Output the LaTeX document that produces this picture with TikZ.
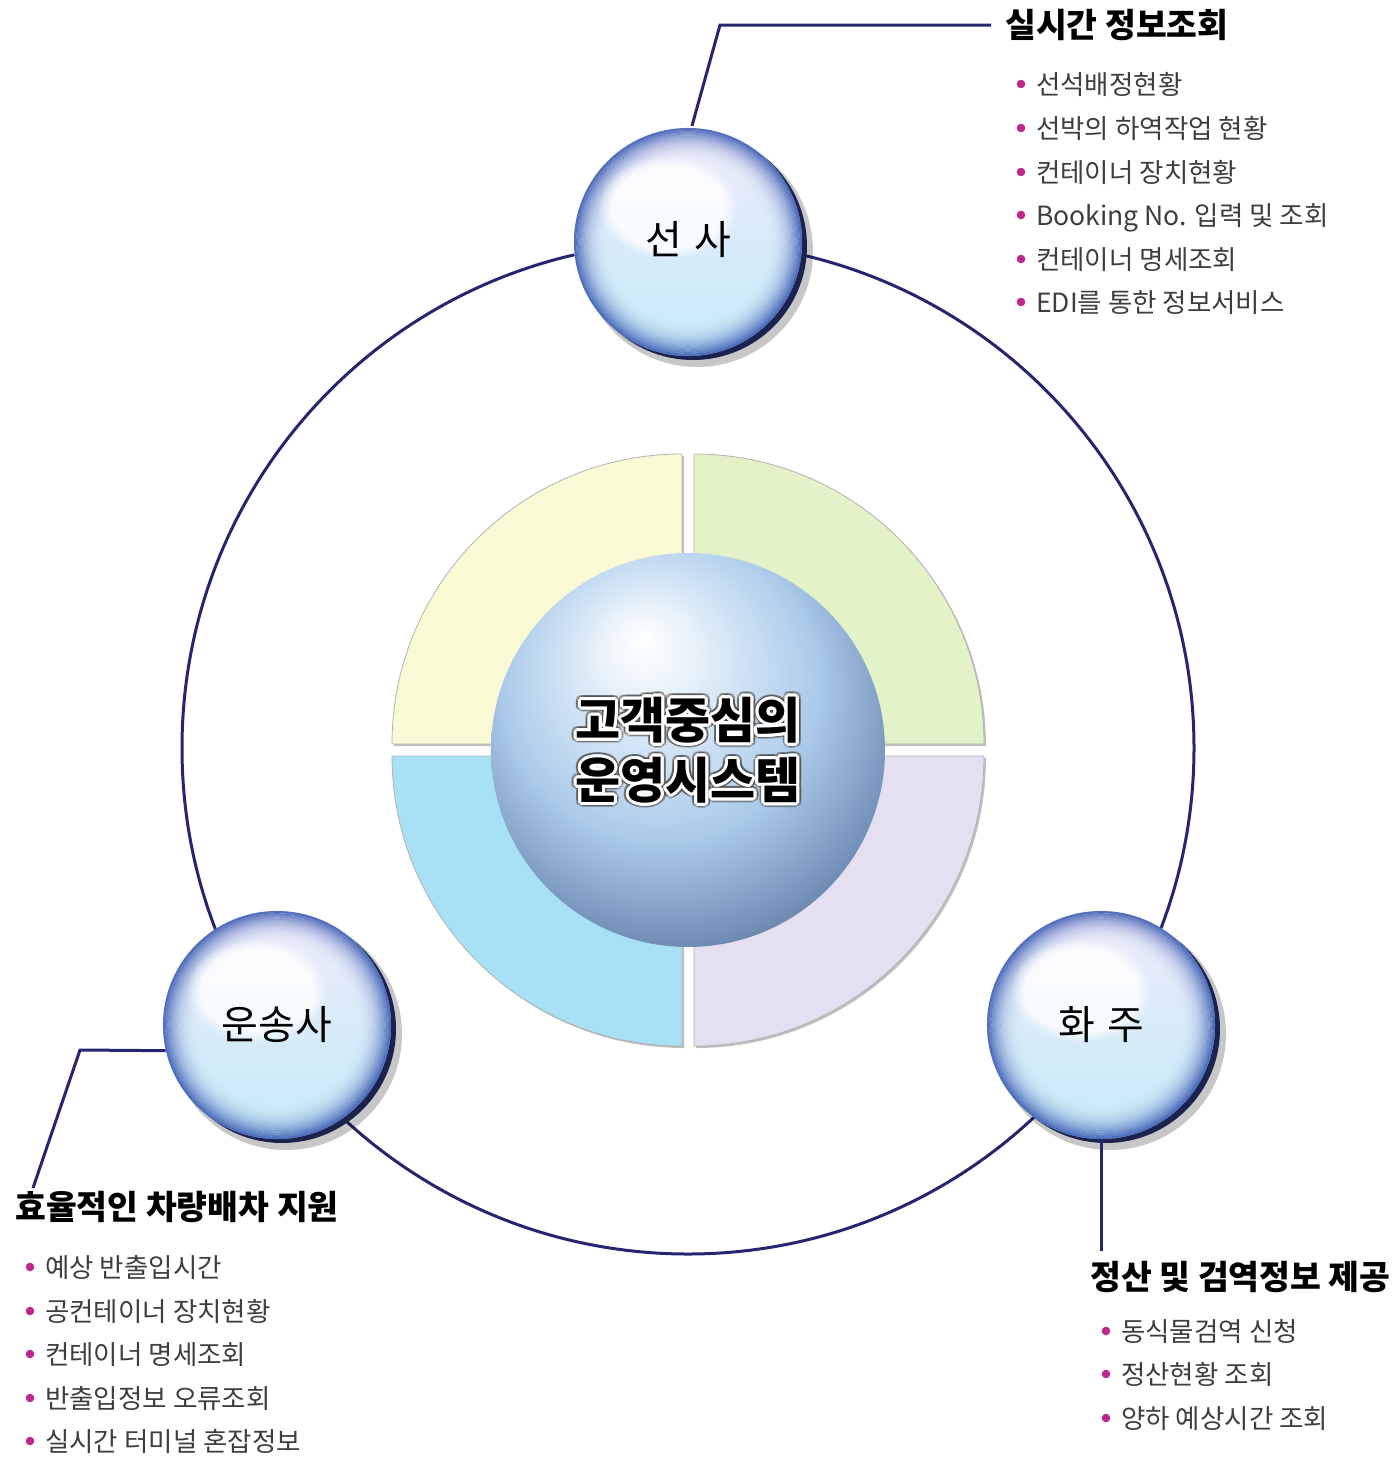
\documentclass[tikz,border=0pt]{standalone}
\usepackage{fontspec}
\setmainfont{Noto Sans CJK KR}
\newfontfamily\blackfont{Noto Sans CJK KR Black}
\usetikzlibrary{fadings,calc}
\definecolor{navyline}{RGB}{38,38,112}
\definecolor{mag}{RGB}{190,40,140}
\definecolor{itemgray}{RGB}{62,62,62}
\definecolor{qyellow}{RGB}{250,250,212}
\definecolor{qgreen}{RGB}{228,242,200}
\definecolor{qblue}{RGB}{168,225,245}
\definecolor{qlav}{RGB}{228,224,242}
\definecolor{cb1}{RGB}{232,242,250}
\definecolor{cb2}{RGB}{170,202,234}
\definecolor{cb3}{RGB}{120,150,188}
\definecolor{cb4}{RGB}{68,92,128}
\definecolor{balltop}{RGB}{238,236,250}
\definecolor{ballbot}{RGB}{196,234,247}
\definecolor{ringblue}{RGB}{50,82,175}
\definecolor{balldark}{RGB}{28,34,78}
\pgfdeclareradialshading{centerball}{\pgfpoint{-6bp}{14bp}}{color(0bp)=(white); color(6bp)=(cb1); color(20bp)=(cb2); color(29bp)=(cb3); color(37bp)=(cb4); color(50bp)=(cb4)}
\newcommand\glassball[1]{%
  \fill[black, opacity=.22] (#1) ++(9,9) circle[radius=116];
  \fill[balldark] (#1) ++(5,4) circle[radius=114];
  \shade[top color=balltop, bottom color=ballbot] (#1) circle[radius=114];
  \foreach \k in {0,...,15}
    \draw[ringblue, line width=2.3pt, opacity={0.8*(1-\k/16)^2.5}] (#1) circle[radius={112.9-2.2*\k}];
  \fill[white, opacity=.8, path fading=circle with fuzzy edge 20 percent] (#1) ++(-20,-35) ellipse[x radius=70, y radius=52];
}
\tikzset{
  conn/.style={navyline, line width=3pt},
  ballnode/.style={circle, minimum size=228pt, inner sep=0pt, font=\fontsize{40}{48}\selectfont},
  titlenode/.style={anchor=west, inner sep=0pt, text height=28pt, text depth=2.5pt, font=\bfseries\fontsize{33.5}{40}\selectfont},
  itemnode/.style={anchor=west, inner sep=0pt, text=itemgray, text height=22pt, text depth=2pt, font=\fontsize{26.5}{32}\selectfont},
  bulletdot/.style={fill=mag},
  ctext/.style={font=\blackfont\fontsize{49}{58}\selectfont, inner sep=0pt},
  sectorshadow/.style={fill=black!45, opacity=.55},
  sectoredge/.style={draw=black!30, line width=.8pt}
}
\begin{document}
\begin{tikzpicture}[x=1pt,y=-1pt]
\useasboundingbox (0,0) rectangle (1397,1459);
\fill[white] (0,0) rectangle (1397,1459);

% big ring
\draw[conn] (688,748) circle[radius=506];

% quarter sectors
\fill[sectorshadow] (684,746) -- ++(-290,0) arc[start angle=180, end angle=270, radius=290] -- cycle;
\fill[sectorshadow] (696,746) -- ++(0,-290) arc[start angle=270, end angle=360, radius=290] -- cycle;
\fill[sectorshadow] (696,758) -- ++(290,0) arc[start angle=0, end angle=90, radius=290] -- cycle;
\fill[sectorshadow] (684,758) -- ++(0,290) arc[start angle=90, end angle=180, radius=290] -- cycle;
\fill[qyellow, sectoredge] (682,744) -- ++(-290,0) arc[start angle=180, end angle=270, radius=290] -- cycle;
\fill[qgreen, sectoredge] (694,744) -- ++(0,-290) arc[start angle=270, end angle=360, radius=290] -- cycle;
\fill[qlav, sectoredge] (694,756) -- ++(290,0) arc[start angle=0, end angle=90, radius=290] -- cycle;
\fill[qblue, sectoredge] (682,756) -- ++(0,290) arc[start angle=90, end angle=180, radius=290] -- cycle;

% center sphere
\shade[shading=centerball] (688,750) circle[radius=197];
\coordinate (cen1) at (688,720);
\coordinate (cen2) at (688,780);
\foreach \a [count=\i] in {0,22.5,...,337.5} {
  \node[ctext, text=black!70, opacity=.45] (ga\i) at ($(cen1)+(\a:5)$) {고객중심의};
  \node[ctext, text=black!70, opacity=.45] (gb\i) at ($(cen2)+(\a:5)$) {운영시스템};
}
\foreach \a [count=\i] in {0,22.5,...,337.5} {
  \node[ctext, text=white] (ha\i) at ($(cen1)+(\a:3.2)$) {고객중심의};
  \node[ctext, text=white] (hb\i) at ($(cen2)+(\a:3.2)$) {운영시스템};
}
\node[ctext] (c1) at (cen1) {고객중심의};
\node[ctext] (c2) at (cen2) {운영시스템};

% glass balls
\glassball{688,242}
\glassball{277,1025}
\glassball{1101,1025}
\node[ballnode] (sunsa) at (688,240) {선\hspace{.3em}사};
\node[ballnode] (unsong) at (277,1025) {운송사};
\node[ballnode] (hwaju) at (1101,1025) {화\hspace{.3em}주};

% top-right group
\node[titlenode] (t1) at (1005,25) {실시간 정보조회};
\coordinate (k1) at (720,25);
\draw[conn] (sunsa.88) -- (k1) -- ([xshift=-14pt]t1.west);
\node[itemnode] (a1) at (1036,84) {선석배정현황};
\node[itemnode] (a2) at (1036,128) {선박의 하역작업 현황};
\node[itemnode] (a3) at (1036,172) {컨테이너 장치현황};
\node[itemnode] (a4) at (1036,215) {Booking No. 입력 및 조회};
\node[itemnode] (a5) at (1036,259) {컨테이너 명세조회};
\node[itemnode] (a6) at (1036,302) {EDI를 통한 정보서비스};

% left group
\node[titlenode] (t2) at (15,1207) {효율적인 차량배차 지원};
\coordinate (k2) at (80,1050);
\coordinate (k2e) at (33,1188);
\draw[conn] (unsong.193) -- (k2) -- (k2e);
\node[itemnode] (b1) at (45,1267) {예상 반출입시간};
\node[itemnode] (b2) at (45,1311) {공컨테이너 장치현황};
\node[itemnode] (b3) at (45,1354) {컨테이너 명세조회};
\node[itemnode] (b4) at (45,1398) {반출입정보 오류조회};
\node[itemnode] (b5) at (45,1441) {실시간 터미널 혼잡정보};

% right group
\node[titlenode] (t3) at (1090,1277) {정산 및 검역정보 제공};
\coordinate (k3) at (0,1251);
\draw[conn] (hwaju.south) -- (hwaju.south |- k3);
\node[itemnode] (d1) at (1121,1331) {동식물검역 신청};
\node[itemnode] (d2) at (1121,1374) {정산현황 조회};
\node[itemnode] (d3) at (1121,1418) {양하 예상시간 조회};

% bullets
\foreach \n in {a1,a2,a3,a4,a5,a6,b1,b2,b3,b4,b5,d1,d2,d3}
  \fill[bulletdot] ([xshift=-15pt]\n.west) circle[radius=4.3];
\end{tikzpicture}
\end{document}
